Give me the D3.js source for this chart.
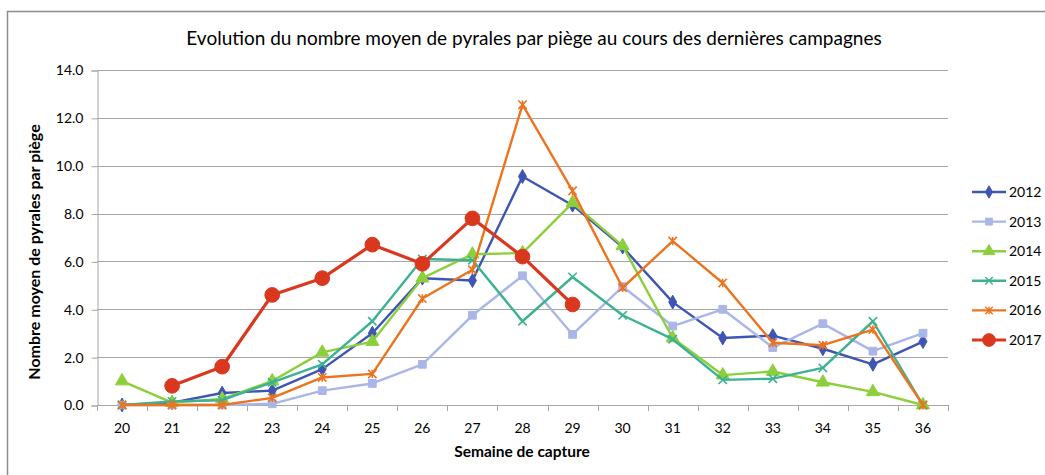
<!DOCTYPE html>
<html lang="fr">
<head>
<meta charset="UTF-8">
<title>Pyrales</title>
<script src="https://cdn.jsdelivr.net/npm/d3@7"></script>
<style>
    body { margin: 0; background: #fff; }
    svg { display: block; }
    text { font-family: Lato, "Liberation Sans", sans-serif; fill: #000; }
</style>
</head>
<body>
<div id="chart"></div>
<script>
// ---- data ----
const weeks = [20, 21, 22, 23, 24, 25, 26, 27, 28, 29, 30, 31, 32, 33, 34, 35, 36];
const yTicks = [0, 2, 4, 6, 8, 10, 12, 14];
const years = ["2012", "2013", "2014", "2015", "2016", "2017"];

const v2012 = [0, 0.1, 0.5, 0.6, 1.5, 3.0, 5.3, 5.2, 9.55, 8.35, 6.6, 4.3, 2.8, 2.9, 2.35, 1.7, 2.65];
const v2013 = [0, 0, 0, 0.05, 0.6, 0.9, 1.7, 3.75, 5.4, 2.95, 4.95, 3.3, 4.0, 2.4, 3.4, 2.25, 3.0];
const v2014 = [1.0, 0.1, 0.25, 1.0, 2.2, 2.65, 5.3, 6.3, 6.35, 8.45, 6.65, 2.8, 1.25, 1.4, 0.95, 0.55, 0.0];
const v2015 = [0, 0.15, 0.2, 0.95, 1.7, 3.5, 6.1, 6.05, 3.5, 5.35, 3.75, 2.75, 1.05, 1.1, 1.55, 3.5, 0];
const v2016 = [0, 0, 0, 0.3, 1.15, 1.3, 4.45, 5.65, 12.55, 8.95, 4.9, 6.85, 5.1, 2.6, 2.5, 3.15, 0];
const v2017 = [null, 0.8, 1.6, 4.6, 5.3, 6.7, 5.9, 7.8, 6.2, 4.2, null, null, null, null, null, null, null];

const colors = ["#3E55B3", "#AAB6E8", "#8CCF3C", "#3DB292", "#EC7420", "#D9381F"];

const series = [v2012, v2013, v2014, v2015, v2016, v2017].map((vals, i) => ({
    name: years[i],
    color: colors[i],
    values: vals.map((v, j) => ({ week: weeks[j], v: v }))
}));

// ---- marker shapes (Excel style) ----
const xMark = {
    draw(ctx, size) {
        const r = Math.sqrt(size) / 2;
        ctx.moveTo(-r, -r); ctx.lineTo(r, r);
        ctx.moveTo(r, -r); ctx.lineTo(-r, r);
    }
};
const starMark = {
    draw(ctx, size) {
        const r = Math.sqrt(size) / 2;
        ctx.moveTo(-r, -r); ctx.lineTo(r, r);
        ctx.moveTo(r, -r); ctx.lineTo(-r, r);
        ctx.moveTo(0, -r); ctx.lineTo(0, r);
    }
};
const markers = [
    { type: d3.symbolDiamond, size: 55, fill: true },
    { type: d3.symbolSquare, size: 60, fill: true },
    { type: d3.symbolTriangle, size: 75, fill: true },
    { type: xMark, size: 70, fill: false },
    { type: starMark, size: 70, fill: false },
    { type: d3.symbolCircle, size: 170, fill: true }
];

// ---- layout ----
const W = 1045, H = 475;
const plot = { left: 97, right: 948, top: 70, bottom: 405 };

const svg = d3.select("#chart").append("svg")
    .attr("width", W)
    .attr("height", H);

// chart frame
svg.append("rect")
    .attr("x", 7.5).attr("y", 11.5)
    .attr("width", W).attr("height", H)
    .attr("fill", "none")
    .attr("stroke", "#8c8c8c")
    .attr("stroke-width", 1.5);

const x = d3.scaleBand().domain(weeks).range([plot.left, plot.right]);
const xc = w => x(w) + x.bandwidth() / 2;
const y = d3.scaleLinear().domain([0, 14]).range([plot.bottom, plot.top]);

// gridlines
svg.append("g").selectAll("line")
    .data(yTicks.filter(t => t > 0))
    .enter().append("line")
    .attr("x1", plot.left).attr("x2", plot.right)
    .attr("y1", d => Math.round(y(d)) + 0.5).attr("y2", d => Math.round(y(d)) + 0.5)
    .attr("stroke", "#a6a6a6").attr("stroke-width", 1);

// y axis
const yAxis = svg.append("g")
    .attr("transform", `translate(${plot.left + 0.5},0.5)`)
    .call(d3.axisLeft(y).tickValues(yTicks).tickFormat(d3.format(".1f")).tickSize(6).tickPadding(8));
yAxis.select(".domain").attr("stroke", "#a6a6a6");
yAxis.selectAll(".tick line").attr("stroke", "#a6a6a6");
yAxis.selectAll("text").style("font-size", "14px").attr("fill", "#000");

// x axis with ticks between categories
const xg = svg.append("g");
xg.append("line")
    .attr("x1", plot.left).attr("x2", plot.right)
    .attr("y1", plot.bottom + 0.5).attr("y2", plot.bottom + 0.5)
    .attr("stroke", "#a6a6a6");
xg.selectAll("line.tk")
    .data(weeks.map(w => x(w)).concat([plot.right]))
    .enter().append("line")
    .attr("class", "tk")
    .attr("x1", d => Math.round(d) + 0.5).attr("x2", d => Math.round(d) + 0.5)
    .attr("y1", plot.bottom).attr("y2", plot.bottom + 6)
    .attr("stroke", "#a6a6a6");
xg.selectAll("text")
    .data(weeks)
    .enter().append("text")
    .attr("x", d => xc(d))
    .attr("y", 433)
    .attr("text-anchor", "middle")
    .style("font-size", "14px")
    .text(d => d);

// titles
svg.append("text")
    .attr("x", 534).attr("y", 45)
    .attr("text-anchor", "middle")
    .style("font-size", "19px")
    .text("Evolution du nombre moyen de pyrales par piège au cours des dernières campagnes");

svg.append("text")
    .attr("x", 522).attr("y", 457)
    .attr("text-anchor", "middle")
    .style("font-size", "15.5px").style("font-weight", "bold")
    .text("Semaine de capture");

svg.append("text")
    .attr("transform", "translate(40,252) rotate(-90)")
    .attr("text-anchor", "middle")
    .style("font-size", "16px").style("font-weight", "bold")
    .text("Nombre  moyen de pyrales par piège");

// lines
const line = d3.line()
    .defined(d => d.v !== null)
    .x(d => xc(d.week))
    .y(d => y(d.v));

const sg = svg.append("g").selectAll("g")
    .data(series)
    .enter().append("g");

sg.append("path")
    .attr("d", d => line(d.values))
    .attr("fill", "none")
    .attr("stroke", d => d.color)
    .attr("stroke-width", (d, i) => i === 5 ? 3.2 : 2.4)
    .attr("stroke-linejoin", "round");

sg.each(function (s, i) {
    const m = markers[i];
    d3.select(this).selectAll("path.mk")
        .data(s.values.filter(d => d.v !== null))
        .enter().append("path")
        .attr("class", "mk")
        .attr("transform", d => `translate(${xc(d.week)},${y(d.v)})`)
        .attr("d", d3.symbol().type(m.type).size(m.size))
        .attr("fill", m.fill ? s.color : "none")
        .attr("stroke", s.color)
        .attr("stroke-width", m.fill ? 1 : 1.6);
});

// legend
const lg = svg.append("g").selectAll("g")
    .data(series)
    .enter().append("g")
    .attr("transform", (d, i) => `translate(972,${192 + i * 29.6})`);

lg.append("line")
    .attr("x1", 0).attr("x2", 34)
    .attr("stroke", d => d.color)
    .attr("stroke-width", (d, i) => i === 5 ? 3.2 : 2.4);

lg.append("path")
    .attr("transform", "translate(17,0)")
    .attr("d", (d, i) => d3.symbol().type(markers[i].type).size(markers[i].size * (i === 5 ? 0.75 : 0.8))())
    .attr("fill", (d, i) => markers[i].fill ? d.color : "none")
    .attr("stroke", d => d.color)
    .attr("stroke-width", (d, i) => markers[i].fill ? 1 : 1.4);

lg.append("text")
    .attr("x", 37).attr("y", 5)
    .style("font-size", "14px")
    .text(d => d.name);
</script>
</body>
</html>
